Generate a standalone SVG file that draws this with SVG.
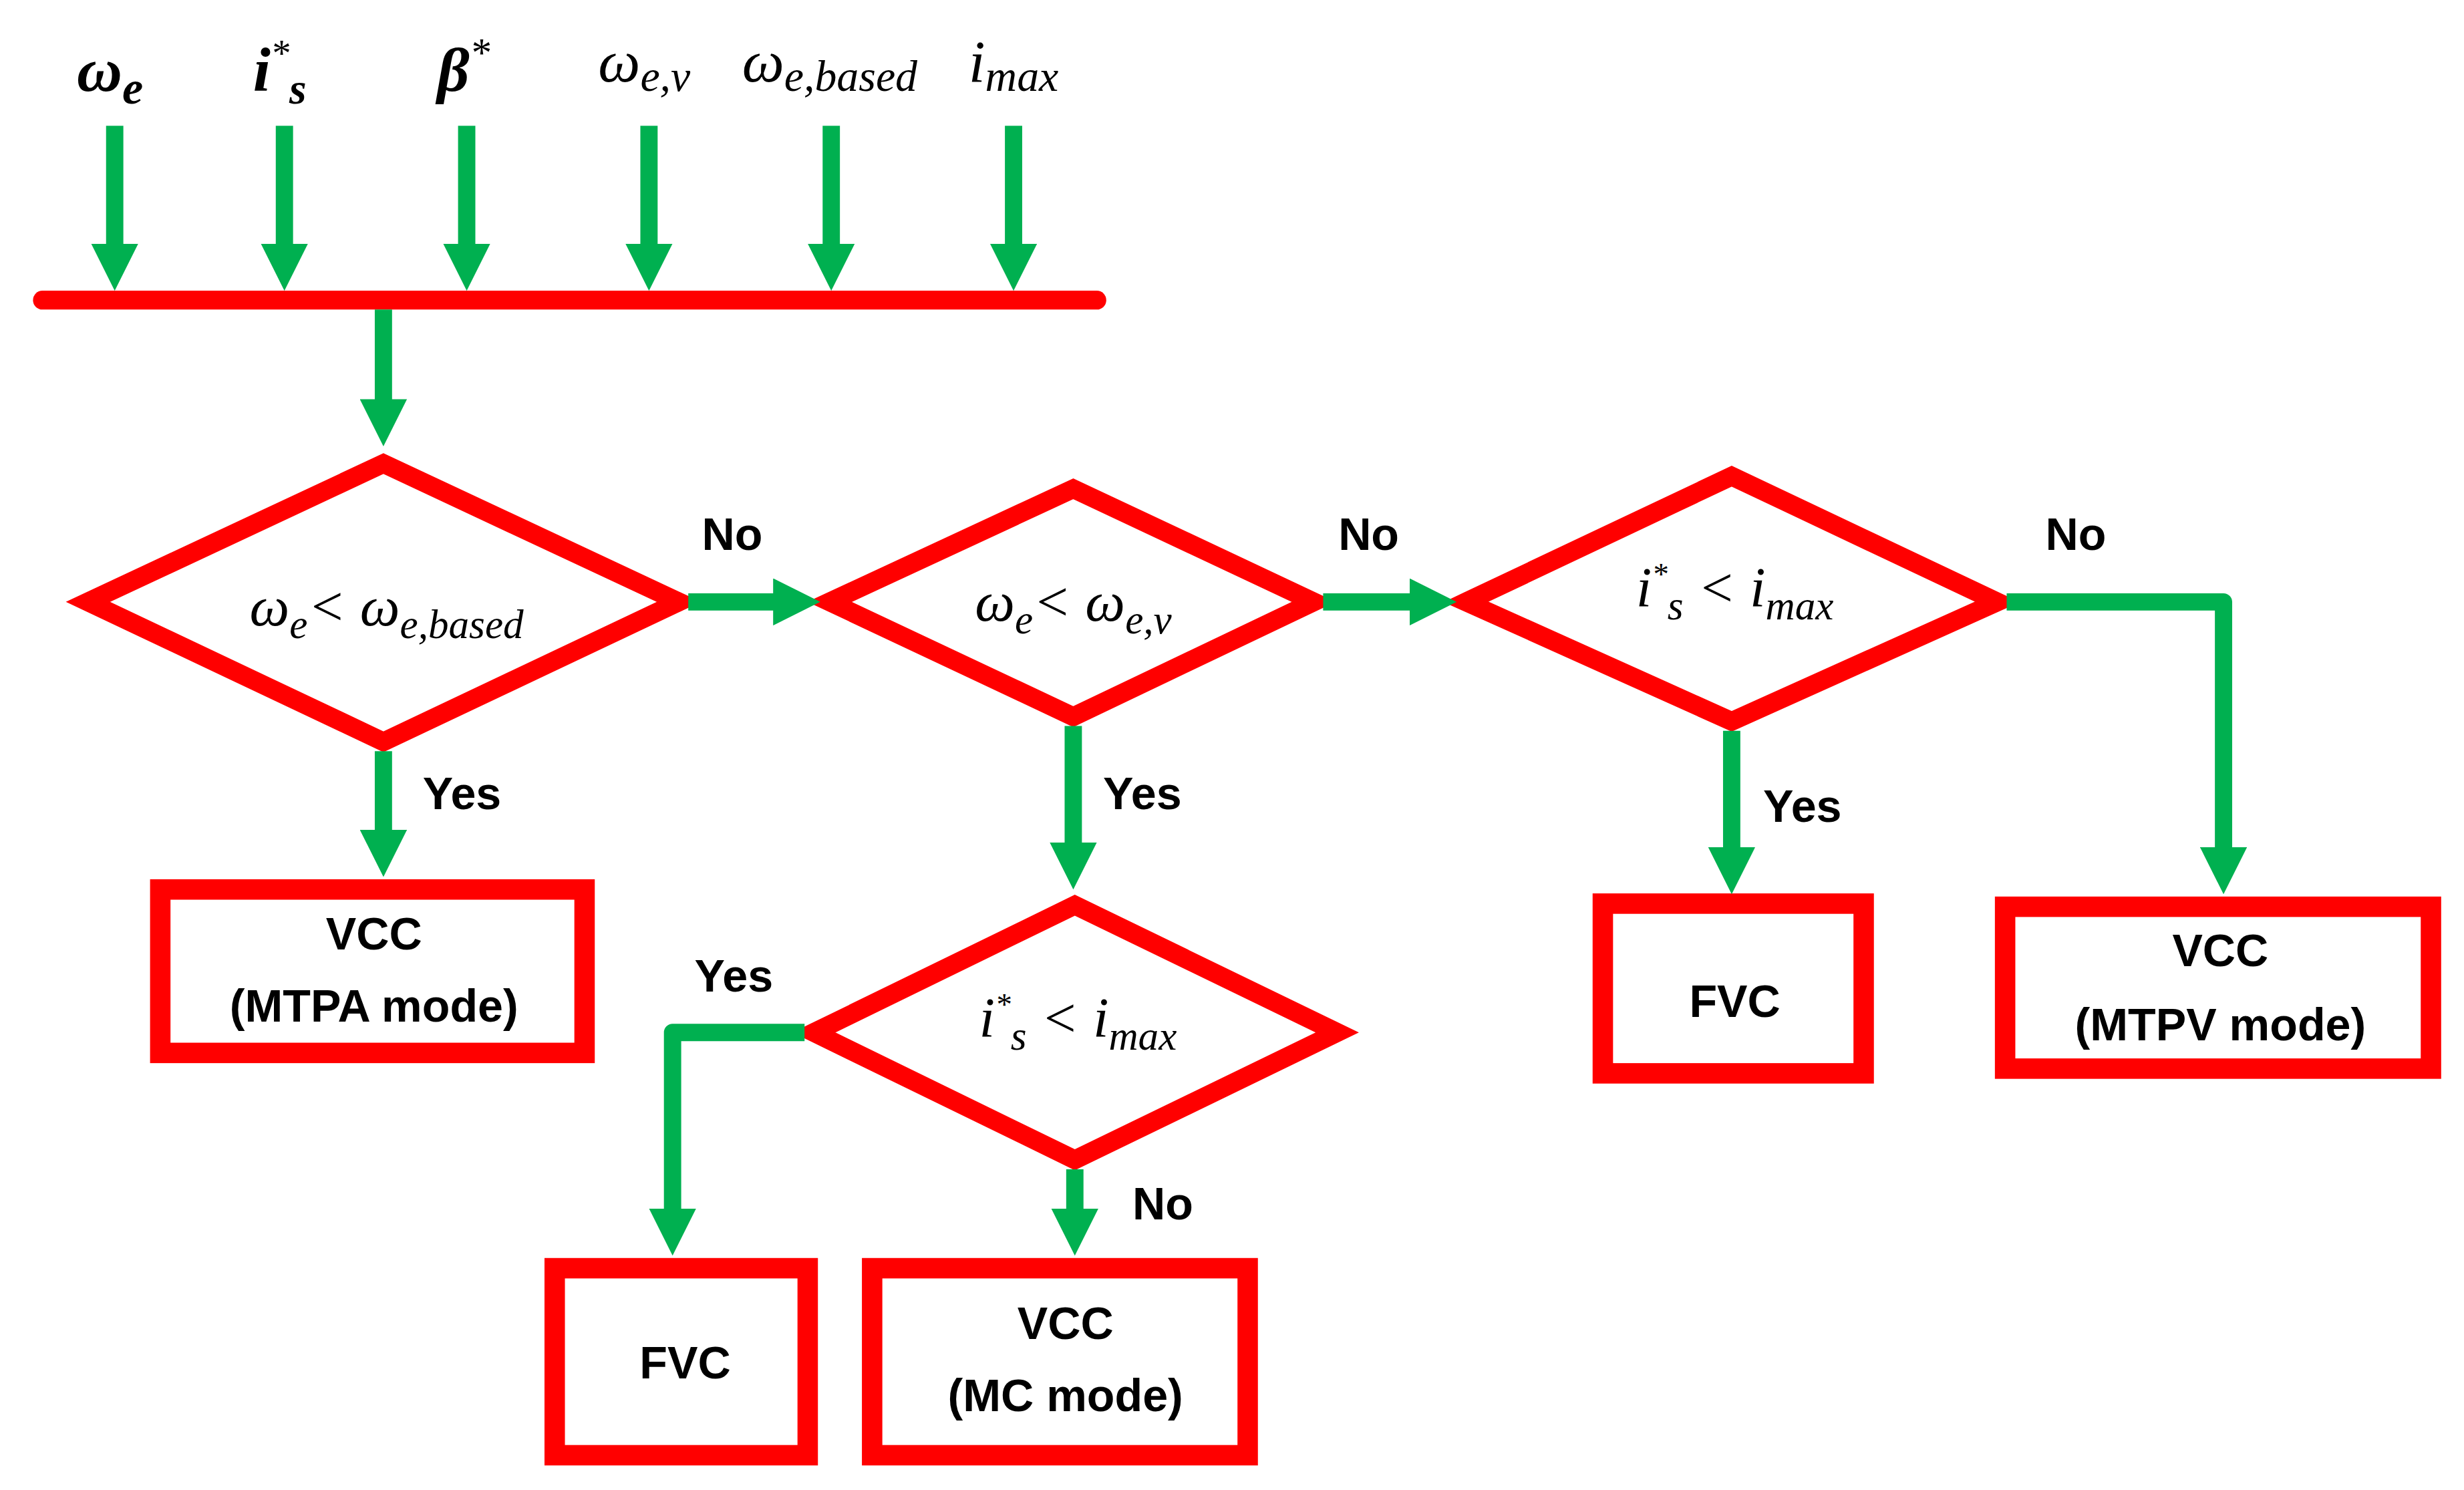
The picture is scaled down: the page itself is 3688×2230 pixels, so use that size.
<svg xmlns="http://www.w3.org/2000/svg" width="3688" height="2230" viewBox="0 0 3688 2230">
<defs>
<style>
.box{fill:#fff;stroke:#ff0000;stroke-width:13}
.dia{fill:#fff;stroke:#ff0000;stroke-width:12;stroke-linejoin:miter;stroke-miterlimit:10}
.c{fill:none;stroke:#00b050;stroke-width:11}
.t{font-family:"Liberation Sans",Arial,sans-serif;font-weight:bold;font-size:29px;fill:#000;text-anchor:middle}
.m{font-family:"Liberation Serif","Times New Roman",serif;font-style:italic;fill:#000;text-anchor:middle}
.in{font-family:"Liberation Serif","Times New Roman",serif;font-style:italic;font-weight:bold;font-size:40px;fill:#000;text-anchor:middle}
</style>
<marker id="ah" markerUnits="userSpaceOnUse" markerWidth="30" markerHeight="30" viewBox="0 0 30 30" refX="10" refY="15" orient="auto"><path d="M0,0 L30,15 L0,30 z" fill="#00b050"/></marker>
</defs>
<rect width="3688" height="2230" fill="#fff"/>
<g transform="scale(2.352)">
<g id="inputs">
<text class="in" x="70" y="58">ω<tspan font-size="30" dy="8">e</tspan></text>
<text class="in" x="178" y="58">i<tspan font-size="24" dy="-16" font-weight="normal">*</tspan><tspan font-size="28" dy="24">s</tspan></text>
<text class="in" x="295" y="58">β<tspan font-size="26" dy="-16" font-weight="normal">*</tspan></text>
<text class="m" x="410" y="52" font-size="38">ω<tspan font-size="28" dy="6">e,v</tspan></text>
<text class="m" x="528" y="52" font-size="38">ω<tspan font-size="28" dy="6">e,based</tspan></text>
<text class="m" x="645" y="52" font-size="38">i<tspan font-size="28" dy="6">max</tspan></text>
</g>
<g id="bus"><line x1="27" y1="191" x2="698" y2="191" stroke="#ff0000" stroke-width="12" stroke-linecap="round"/></g>
<g id="d1"><polygon class="dia" points="56,383 244,295 432,383 244,472"/>
<text class="m" x="246" y="398" font-size="36">ω<tspan font-size="26" dy="8">e</tspan><tspan dy="-8">&lt; ω</tspan><tspan font-size="26" dy="8">e,based</tspan></text></g>
<g id="d2"><polygon class="dia" points="528,383 683,311 836,383 683,456"/>
<text class="m" x="683" y="395" font-size="36">ω<tspan font-size="26" dy="8">e</tspan><tspan dy="-8">&lt; ω</tspan><tspan font-size="26" dy="8">e,v</tspan></text></g>
<g id="d3"><polygon class="dia" points="933,383 1102,303 1271,383 1102,459"/>
<text class="m" x="1104" y="386" font-size="36">i<tspan font-size="20" dy="-14">*</tspan><tspan font-size="26" dy="22">s</tspan><tspan dy="-8"> &lt; i</tspan><tspan font-size="26" dy="8">max</tspan></text></g>
<g id="d4"><polygon class="dia" points="518,657 684,576 851,657 684,738"/>
<text class="m" x="686" y="660" font-size="36">i<tspan font-size="20" dy="-14">*</tspan><tspan font-size="26" dy="22">s</tspan><tspan dy="-8"> &lt; i</tspan><tspan font-size="26" dy="8">max</tspan></text></g>
<g id="b1"><rect class="box" x="102" y="566" width="270" height="104"/><text class="t" x="238" y="604">VCC</text><text class="t" x="238" y="650">(MTPA mode)</text></g>
<g id="b2"><rect class="box" x="1020" y="575" width="166" height="108"/><text class="t" x="1104" y="647">FVC</text></g>
<g id="b3"><rect class="box" x="1276" y="577" width="271" height="103"/><text class="t" x="1413" y="615">VCC</text><text class="t" x="1413" y="662">(MTPV mode)</text></g>
<g id="b4"><rect class="box" x="353" y="807" width="161" height="119"/><text class="t" x="436" y="877">FVC</text></g>
<g id="b5"><rect class="box" x="555" y="807" width="239" height="119"/><text class="t" x="678" y="852">VCC</text><text class="t" x="678" y="898">(MC mode)</text></g>
<g id="connectors">
<line class="c" x1="73" y1="80" x2="73" y2="165" marker-end="url(#ah)"/>
<line class="c" x1="181" y1="80" x2="181" y2="165" marker-end="url(#ah)"/>
<line class="c" x1="297" y1="80" x2="297" y2="165" marker-end="url(#ah)"/>
<line class="c" x1="413" y1="80" x2="413" y2="165" marker-end="url(#ah)"/>
<line class="c" x1="529" y1="80" x2="529" y2="165" marker-end="url(#ah)"/>
<line class="c" x1="645" y1="80" x2="645" y2="165" marker-end="url(#ah)"/>
<line class="c" x1="244" y1="197" x2="244" y2="264" marker-end="url(#ah)"/>
<line class="c" x1="438" y1="383" x2="502" y2="383" marker-end="url(#ah)"/>
<line class="c" x1="842" y1="383" x2="907" y2="383" marker-end="url(#ah)"/>
<path class="c" d="M1277,383 H1415 V549" stroke-linejoin="round" marker-end="url(#ah)"/>
<line class="c" x1="1102" y1="465" x2="1102" y2="549" marker-end="url(#ah)"/>
<line class="c" x1="244" y1="478" x2="244" y2="538" marker-end="url(#ah)"/>
<line class="c" x1="683" y1="462" x2="683" y2="546" marker-end="url(#ah)"/>
<path class="c" d="M512,657 H428 V779" stroke-linejoin="round" marker-end="url(#ah)"/>
<line class="c" x1="684" y1="744" x2="684" y2="779" marker-end="url(#ah)"/>
<text class="t" x="466" y="350">No</text>
<text class="t" x="871" y="350">No</text>
<text class="t" x="1321" y="350">No</text>
<text class="t" x="294" y="515">Yes</text>
<text class="t" x="727" y="515">Yes</text>
<text class="t" x="1147" y="523">Yes</text>
<text class="t" x="467" y="631">Yes</text>
<text class="t" x="740" y="776">No</text>
</g>
</g>
</svg>
